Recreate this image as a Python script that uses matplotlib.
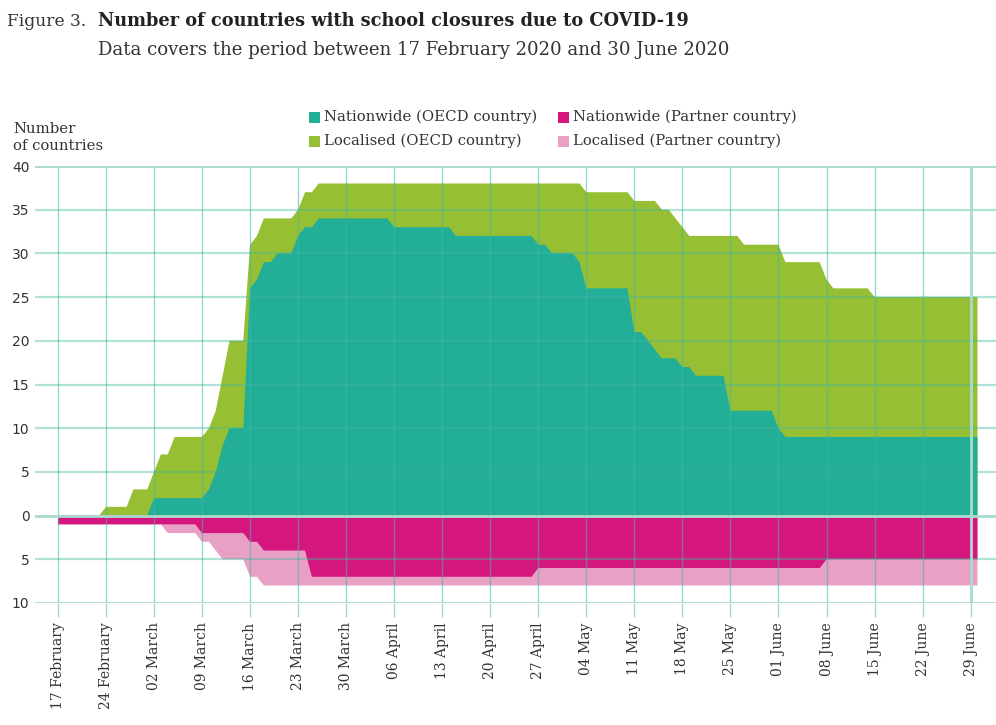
import matplotlib
matplotlib.use("Agg")
import matplotlib.pyplot as plt
import matplotlib.dates as mdates
from matplotlib.patches import Rectangle
import numpy as np
import pandas as pd

# ---------------- data (daily, 17 Feb 2020 .. 30 Jun 2020) ----------------
dates = pd.date_range("2020-02-17", "2020-06-30", freq="D")

nationwide_oecd = [
    0, 0, 0, 0, 0, 0, 0, 0, 0, 0, 0, 0, 0, 0,
    2, 2, 2, 2, 2, 2, 2, 2,
    3, 5, 8, 10, 10, 10,
    26, 27, 29, 29, 30, 30, 30, 32, 33, 33,
    34, 34, 34, 34, 34, 34, 34, 34, 34, 34, 34,
    33, 33, 33, 33, 33, 33, 33, 33, 33,
    32, 32, 32, 32, 32, 32, 32, 32, 32, 32, 32, 32,
    31, 31, 30, 30, 30, 30, 29,
    26, 26, 26, 26, 26, 26, 26,
    21, 21, 20, 19, 18, 18, 18, 17, 17,
    16, 16, 16, 16, 16,
    12, 12, 12, 12, 12, 12, 12, 10,
    9, 9, 9, 9, 9, 9, 9, 9, 9, 9, 9, 9, 9, 9, 9, 9, 9, 9, 9, 9,
    9, 9, 9, 9, 9, 9, 9, 9, 9,
]

localised_oecd = [
    0, 0, 0, 0, 0, 0, 0,
    1, 1, 1, 1,
    3, 3, 3, 3,
    5, 5,
    7, 7, 7, 7, 7, 7, 7,
    8, 10, 10, 10,
    5, 5, 5, 5, 4, 4, 4, 3, 4, 4,
    4, 4, 4, 4, 4, 4, 4, 4, 4, 4, 4,
    5, 5, 5, 5, 5, 5, 5, 5, 5,
    6, 6, 6, 6, 6, 6, 6, 6, 6, 6, 6, 6,
    7, 7, 8, 8, 8, 8, 9,
    11, 11, 11, 11, 11, 11, 11,
    15, 15, 16, 17, 17, 17, 16, 16, 15,
    16, 16, 16, 16, 16,
    20, 20, 19, 19, 19, 19, 19, 21,
    20, 20, 20, 20, 20, 20,
    18,
    17, 17, 17, 17, 17, 17,
    16, 16, 16, 16, 16, 16, 16, 16, 16, 16, 16, 16, 16, 16, 16, 16,
]

nationwide_partner = (
    [1] * 21 + [2] * 7 + [3] * 2 + [4] * 7 + [7] * 33 + [6] * 42 + [5] * 23
)
localised_partner = (
    [0] * 16 + [1] * 7 + [2] * 1 + [3] * 4 + [4] * 2 + [4] * 7 + [1] * 33
    + [2] * 42 + [3] * 23
)

tick_dates = pd.date_range("2020-02-17", "2020-06-29", freq="7D")
tick_labels = ["17 February", "24 February", "02 March", "09 March",
               "16 March", "23 March", "30 March", "06 April", "13 April",
               "20 April", "27 April", "04 May", "11 May", "18 May",
               "25 May", "01 June", "08 June", "15 June", "22 June",
               "29 June"]
y_ticks = [-10, -5, 0, 5, 10, 15, 20, 25, 30, 35, 40]
y_tick_labels = ["10", "5", "0", "5", "10", "15", "20", "25", "30", "35", "40"]

series_names = ["Nationwide (OECD country)", "Localised (OECD country)",
                "Nationwide (Partner country)", "Localised (Partner country)"]

# ---------------- style ----------------
TEAL = "#23AE98"
GREEN = "#97BF33"
MAGENTA = "#D5167E"
PINK = "#E8A0C4"
GRID = "#3DB89F"
GRID_LIGHT = "#A9DCCF"
TXT = "#333333"
SERIF = "DejaVu Serif"

W, H = 996, 725
fig = plt.figure(figsize=(W / 100, H / 100), dpi=100)
ax = fig.add_axes([35 / W, 122 / H, 961 / W, 437 / H])

x = mdates.date2num(dates)
no = np.array(nationwide_oecd)
lo = np.array(localised_oecd)
npn = np.array(nationwide_partner)
lp = np.array(localised_partner)

# stacked areas: draw the totals first, nationwide on top (no seams)
ax.fill_between(x, 0, no + lo, facecolor=GREEN, linewidth=0, zorder=1)
ax.fill_between(x, 0, no, facecolor=TEAL, linewidth=0, zorder=2)
ax.fill_between(x, 0, -(npn + lp), facecolor=PINK, linewidth=0, zorder=1)
ax.fill_between(x, 0, -npn, facecolor=MAGENTA, linewidth=0, zorder=2)

x0 = x[0]
ax.set_xlim(x0 - 3.35, x0 + 136.7)
ax.set_ylim(-10, 40)

# grid drawn over the areas
for yv in y_ticks:
    if yv in (-10, 0, 40):
        ax.axhline(yv, color=GRID_LIGHT, lw=2, zorder=4)
    else:
        ax.axhline(yv, color=GRID, lw=1.6, alpha=0.4, zorder=3)
tx = mdates.date2num(tick_dates)
for i, t in enumerate(tx):
    if i == len(tx) - 1:
        ax.axvline(t, color=GRID_LIGHT, lw=2, zorder=4)
    else:
        ax.axvline(t, color=GRID, lw=1.0, alpha=0.55, zorder=3)

ax.set_xticks(tx)
ax.set_xticklabels(tick_labels, rotation=90, fontfamily=SERIF, fontsize=10,
                   color=TXT, va="top", ha="center")
ax.tick_params(axis="x", length=10, width=1, color="#9FDACD", pad=4)
ax.set_yticks(y_ticks)
ax.set_yticklabels(y_tick_labels, fontfamily="DejaVu Sans", fontsize=10,
                   color=TXT)
ax.tick_params(axis="y", length=0, pad=4)
for s in ax.spines.values():
    s.set_visible(False)


def fx(px):
    return px / W


def fy(py):
    return 1 - py / H


t1 = fig.text(fx(7), fy(26), "Figure 3.", fontfamily=SERIF, fontsize=14,
              color=TXT, va="baseline")
t2 = fig.text(fx(98), fy(26),
              "Number of countries with school closures due to COVID-19",
              fontfamily=SERIF, fontweight="bold", fontsize=14,
              color="#222222", va="baseline")
t3 = fig.text(fx(98), fy(55),
              "Data covers the period between 17 February 2020 and 30 June 2020",
              fontfamily=SERIF, fontsize=14, color=TXT, va="baseline")
t4 = fig.text(fx(13), fy(129), "Number", fontfamily=SERIF, fontsize=10.5,
              color=TXT, va="center")
t5 = fig.text(fx(13), fy(146), "of countries", fontfamily=SERIF,
              fontsize=10.5, color=TXT, va="center")

# legend (manual, 2 x 2)
leg_cols = [TEAL, GREEN, MAGENTA, PINK]
leg_pos = [(309, 117), (309, 141), (558, 117), (558, 141)]
leg_texts = []
for name, col, (px, py) in zip(series_names, leg_cols, leg_pos):
    fig.patches.append(Rectangle((fx(px), fy(py + 5.5)), 11 / W, 11 / H,
                                 transform=fig.transFigure, facecolor=col,
                                 edgecolor="none"))
    leg_texts.append(fig.text(fx(px + 15), fy(py), name, fontfamily=SERIF,
                              fontsize=11, color=TXT, va="center"))

# fit text widths to the reference layout
fig.canvas.draw()
r = fig.canvas.get_renderer()


def fit(t, target):
    bb = t.get_window_extent(r)
    t.set_fontsize(t.get_fontsize() * target / bb.width)


fit(t1, 79)
fit(t2, 589)
fit(t3, 636)
fit(t5, 91)
t4.set_fontsize(t5.get_fontsize())
fit(leg_texts[0], 212)
for t in leg_texts[1:]:
    t.set_fontsize(leg_texts[0].get_fontsize())

fig.savefig("out.png", dpi=100)
